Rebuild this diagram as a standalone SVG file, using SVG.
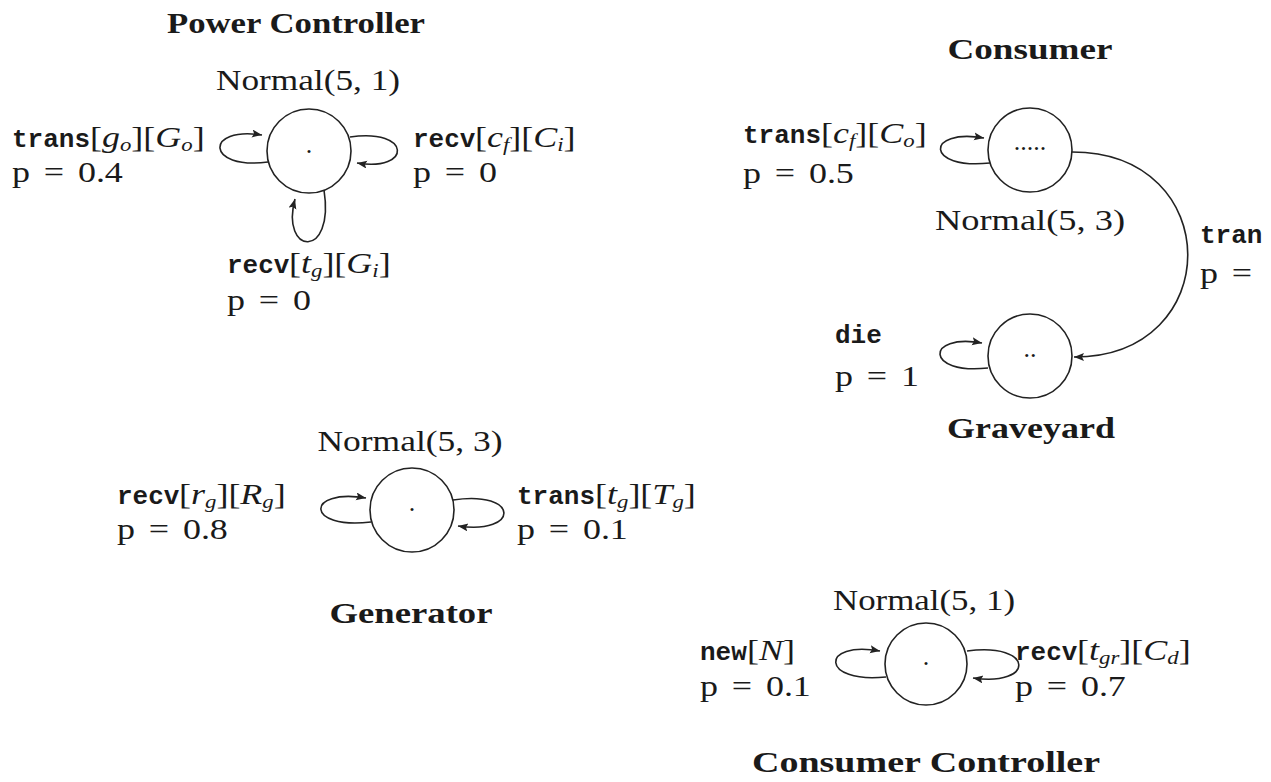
<svg xmlns="http://www.w3.org/2000/svg" width="1271" height="782" viewBox="0 0 1271 782">
<style>
.bg{fill:#fff}
.st{fill:#fff;stroke:#222;stroke-width:1.6}
.ln{fill:none;stroke:#222;stroke-width:1.6}
text{fill:#1a1a1a}
.rm{font-family:"Liberation Serif",serif;font-size:30px}
.tt{font-family:"Liberation Mono",monospace;font-weight:bold;font-size:26px}
.it{font-style:italic}
.sb{font-size:19px;font-style:italic}
.ttl{font-family:"Liberation Serif",serif;font-size:29px;font-weight:bold;text-anchor:middle}
.nm{font-family:"Liberation Serif",serif;font-size:30px;text-anchor:middle}
.dot{font-family:"Liberation Serif",serif;font-size:26px;text-anchor:middle}
</style>
<defs>
<marker id="ah" markerUnits="userSpaceOnUse" markerWidth="12" markerHeight="10" refX="10" refY="4" orient="auto">
<path d="M0,0 L10,4 L0,8 L2,4 z" fill="#222"/>
</marker>
</defs>
<rect class="bg" x="0" y="0" width="1271" height="782"/>

<g id="connectors">
<path class="ln" d="M268,162 C205,170 205,126 262,135" marker-end="url(#ah)"/>
<path class="ln" d="M350,137 C412,128 412,172 357,163" marker-end="url(#ah)"/>
<path class="ln" d="M324,190 C335,260 280,255 295,199" marker-end="url(#ah)"/>
<path class="ln" d="M990,163 C925,170 925,128 984,138" marker-end="url(#ah)"/>
<path class="ln" d="M1072,152 C1226,152 1226,357 1074,357" marker-end="url(#ah)"/>
<path class="ln" d="M988,368 C925,375 925,333 982,343" marker-end="url(#ah)"/>
<path class="ln" d="M371,522 C305,530 305,488 366,498" marker-end="url(#ah)"/>
<path class="ln" d="M453,500 C520,490 520,535 458,526" marker-end="url(#ah)"/>
<path class="ln" d="M886,677 C820,684 820,640 880,651" marker-end="url(#ah)"/>
<path class="ln" d="M967,651 C1035,642 1035,687 973,678" marker-end="url(#ah)"/>
</g>

<g id="power-controller">
<text class="ttl" x="296" y="33" textLength="258" lengthAdjust="spacingAndGlyphs">Power Controller</text>
<text class="nm" x="308" y="90" textLength="184" lengthAdjust="spacingAndGlyphs">Normal(5, 1)</text>
<circle class="st" cx="309" cy="151" r="42"/>
<text class="dot" x="309" y="153">.</text>
<text class="tt" x="12" y="147">trans</text>
<text class="rm" transform="translate(90,147) scale(1.2,1)">[<tspan class="it">g</tspan><tspan class="sb" dy="4">o</tspan><tspan dy="-4">][</tspan><tspan class="it">G</tspan><tspan class="sb" dy="4">o</tspan><tspan dy="-4">]</tspan></text>
<text class="rm" transform="translate(12,182) scale(1.2,1)" word-spacing="4">p = 0.4</text>
<text class="tt" x="413" y="147">recv</text>
<text class="rm" transform="translate(475,147) scale(1.2,1)">[<tspan class="it">c</tspan><tspan class="sb" dy="4">f</tspan><tspan dy="-4">][</tspan><tspan class="it">C</tspan><tspan class="sb" dy="4">i</tspan><tspan dy="-4">]</tspan></text>
<text class="rm" transform="translate(413,182) scale(1.2,1)" word-spacing="4">p = 0</text>
<text class="tt" x="227" y="273">recv</text>
<text class="rm" transform="translate(289,273) scale(1.2,1)">[<tspan class="it">t</tspan><tspan class="sb" dy="4">g</tspan><tspan dy="-4">][</tspan><tspan class="it">G</tspan><tspan class="sb" dy="4">i</tspan><tspan dy="-4">]</tspan></text>
<text class="rm" transform="translate(227,310) scale(1.2,1)" word-spacing="4">p = 0</text>
</g>

<g id="consumer">
<text class="ttl" x="1030" y="59" textLength="165" lengthAdjust="spacingAndGlyphs">Consumer</text>
<circle class="st" cx="1030" cy="150" r="42"/>
<text class="dot" x="1030" y="150">.....</text>
<text class="nm" x="1030" y="230" textLength="190" lengthAdjust="spacingAndGlyphs">Normal(5, 3)</text>
<text class="tt" x="743" y="143">trans</text>
<text class="rm" transform="translate(821,143) scale(1.2,1)">[<tspan class="it">c</tspan><tspan class="sb" dy="4">f</tspan><tspan dy="-4">][</tspan><tspan class="it">C</tspan><tspan class="sb" dy="4">o</tspan><tspan dy="-4">]</tspan></text>
<text class="rm" transform="translate(743,183) scale(1.2,1)" word-spacing="4">p = 0.5</text>
<text class="tt" x="1200" y="243">tran</text>
<text class="rm" transform="translate(1200,283) scale(1.2,1)" word-spacing="4">p =</text>
</g>

<g id="graveyard">
<circle class="st" cx="1030" cy="356" r="42"/>
<text class="dot" x="1030" y="357">..</text>
<text class="tt" x="835" y="343">die</text>
<text class="rm" transform="translate(835,386) scale(1.2,1)" word-spacing="4">p = 1</text>
<text class="ttl" x="1031" y="438" textLength="168" lengthAdjust="spacingAndGlyphs">Graveyard</text>
</g>

<g id="generator">
<text class="nm" x="410" y="451" textLength="185" lengthAdjust="spacingAndGlyphs">Normal(5, 3)</text>
<circle class="st" cx="412" cy="510" r="42"/>
<text class="dot" x="412" y="511">.</text>
<text class="tt" x="117" y="504">recv</text>
<text class="rm" transform="translate(179,504) scale(1.2,1)">[<tspan class="it">r</tspan><tspan class="sb" dy="4">g</tspan><tspan dy="-4">][</tspan><tspan class="it">R</tspan><tspan class="sb" dy="4">g</tspan><tspan dy="-4">]</tspan></text>
<text class="rm" transform="translate(117,539) scale(1.2,1)" word-spacing="4">p = 0.8</text>
<text class="tt" x="517" y="504">trans</text>
<text class="rm" transform="translate(595,504) scale(1.2,1)">[<tspan class="it">t</tspan><tspan class="sb" dy="4">g</tspan><tspan dy="-4">][</tspan><tspan class="it">T</tspan><tspan class="sb" dy="4">g</tspan><tspan dy="-4">]</tspan></text>
<text class="rm" transform="translate(517,539) scale(1.2,1)" word-spacing="4">p = 0.1</text>
<text class="ttl" x="411" y="623" textLength="163" lengthAdjust="spacingAndGlyphs">Generator</text>
</g>

<g id="consumer-controller">
<text class="nm" x="924" y="610" textLength="182" lengthAdjust="spacingAndGlyphs">Normal(5, 1)</text>
<circle class="st" cx="926" cy="664" r="41"/>
<text class="dot" x="926" y="665">.</text>
<text class="tt" x="700" y="660">new</text>
<text class="rm" transform="translate(747,660) scale(1.2,1)">[<tspan class="it">N</tspan>]</text>
<text class="rm" transform="translate(700,696) scale(1.2,1)" word-spacing="4">p = 0.1</text>
<text class="tt" x="1015" y="660">recv</text>
<text class="rm" transform="translate(1077,660) scale(1.2,1)">[<tspan class="it">t</tspan><tspan class="sb" dy="4">gr</tspan><tspan dy="-4">][</tspan><tspan class="it">C</tspan><tspan class="sb" dy="4">d</tspan><tspan dy="-4">]</tspan></text>
<text class="rm" transform="translate(1015,696) scale(1.2,1)" word-spacing="4">p = 0.7</text>
<text class="ttl" x="926" y="772" textLength="348" lengthAdjust="spacingAndGlyphs">Consumer Controller</text>
</g>
</svg>
